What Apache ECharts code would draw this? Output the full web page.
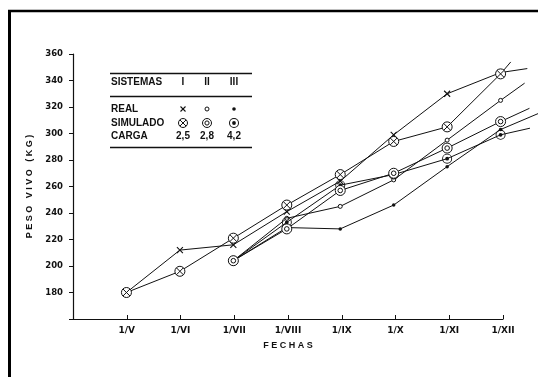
<!DOCTYPE html>
<html>
<head>
<meta charset="utf-8">
<script src="https://cdn.jsdelivr.net/npm/echarts@6/dist/echarts.min.js"></script>
<style>
html,body{margin:0;padding:0;background:#fff;}
#chart{width:538px;height:377px;}
</style>
</head>
<body>
<div id="chart"></div>
<script>
// Fechas (first day of each month, May to December)
const months = ['1/V', '1/VI', '1/VII', '1/VIII', '1/IX', '1/X', '1/XI', '1/XII'];

// Peso vivo (kg), one value per month; null where a system has no data yet
const realI    = [180, 212, 216, 241, 264, 299, 330, 346];
const simI     = [180, 196, 221, 246, 269, 294, 305, 345];
const realII   = [null, null, 204, 236, 245, 265, 295, 325];
const simII    = [null, null, 204, 228, 257, 270, 289, 309];
const realIII  = [null, null, 204, 229, 228, 246, 275, 303];
const simIII   = [null, null, 204, 233, 261, 269, 281, 299];

// Curve continuation after 1/XII: [months past 1/XII, kg]
const tailRealI   = [0.50, 349];
const tailSimI    = [0.19, 354];
const tailRealII  = [0.45, 338];
const tailSimII   = [0.54, 319];
const tailRealIII = [0.70, 315];
const tailSimIII  = [0.55, 304];

// Legend table contents
const sistemas = ['I', 'II', 'III'];
const cargas = ['2,5', '2,8', '4,2'];

const FONT = '"Liberation Sans", Arial, Helvetica, sans-serif';
const AXFONT = '"DejaVu Sans", Verdana, sans-serif';
const INK = '#111';

// Marker shapes
function circ(r, cw) {
  const s = cw ? 1 : 0;
  return 'M 0 ' + (-r) + ' A ' + r + ' ' + r + ' 0 1 ' + s + ' 0 ' + r +
         ' A ' + r + ' ' + r + ' 0 1 ' + s + ' 0 ' + (-r) + ' Z ';
}
const P_CROSS_CIRCLE = circ(5, true) + 'M -3.5 -3.5 L 3.5 3.5 M -3.5 3.5 L 3.5 -3.5';
const P_DOUBLE_CIRCLE = circ(5, true) + circ(2.3, true);
const P_DOT_CIRCLE = circ(5, true) + circ(4.1, false) + circ(1.9, true);
const P_X = 'M -3 -3 L 3 3 M -3 3 L 3 -3';

function toData(values, tail) {
  const out = [];
  values.forEach(function (v, i) { if (v != null) out.push([i, v]); });
  out.push({ value: [values.length - 1 + tail[0], tail[1]], symbol: 'none' });
  return out;
}

const lineStyle = { color: INK, width: 1 };

function lineSeries(name, values, tail, symbol, size, itemStyle) {
  return {
    name: name,
    type: 'line',
    xAxisIndex: 1,
    yAxisIndex: 1,
    data: toData(values, tail),
    symbol: symbol,
    symbolSize: size,
    showAllSymbol: true,
    clip: false,
    lineStyle: lineStyle,
    itemStyle: itemStyle,
    emphasis: { disabled: true },
    animation: false
  };
}

const openWhite = { color: '#fff', borderColor: INK, borderWidth: 1 };
const solid = { color: INK, borderWidth: 0 };

const series = [
  lineSeries('Real III', realIII, tailRealIII, 'circle', 3.5, solid),
  lineSeries('Real II', realII, tailRealII, 'circle', 4, openWhite),
  lineSeries('Real I', realI, tailRealI, 'path://' + P_X, 6, { color: 'none', borderColor: INK, borderWidth: 1.1 }),
  lineSeries('Simulado III', simIII, tailSimIII, 'path://' + P_DOT_CIRCLE, 10, solid),
  lineSeries('Simulado II', simII, tailSimII, 'path://' + P_DOUBLE_CIRCLE, 10, openWhite),
  lineSeries('Simulado I', simI, tailSimI, 'path://' + P_CROSS_CIRCLE, 10, openWhite)
];

// Legend table drawn inside the plot area
const tx = 111, colX = [183, 207, 234];
const rowHead = 82.5, rowReal = 109, rowSim = 123, rowCarga = 136;
function textStyle(t, align) {
  return { text: t, font: 'bold 10px ' + FONT, fill: INK, align: align || 'left', verticalAlign: 'middle' };
}
function seg(x1, y1, x2, y2, w) {
  return { type: 'line', shape: { x1: x1, y1: y1, x2: x2, y2: y2 }, style: { stroke: INK, lineWidth: w || 1 } };
}
const graphics = [
  // page frame
  { type: 'line', shape: { x1: 9.5, y1: 10, x2: 9.5, y2: 377 }, style: { stroke: '#000', lineWidth: 3 } },
  { type: 'line', shape: { x1: 8, y1: 11, x2: 538, y2: 11 }, style: { stroke: '#000', lineWidth: 2.5 } },
  // table rules
  seg(110, 73.5, 252, 73.5, 1.3),
  seg(110, 96.5, 252, 96.5, 1.3),
  seg(110, 147.5, 252, 147.5, 1.3),
  { type: 'text', x: tx, y: rowHead, style: textStyle('SISTEMAS') },
  { type: 'text', x: tx, y: rowReal, style: textStyle('REAL') },
  { type: 'text', x: tx, y: rowSim, style: textStyle('SIMULADO') },
  { type: 'text', x: tx, y: rowCarga, style: textStyle('CARGA') },
  // REAL row markers
  seg(colX[0] - 2.5, rowReal - 2.5, colX[0] + 2.5, rowReal + 2.5, 1.1),
  seg(colX[0] - 2.5, rowReal + 2.5, colX[0] + 2.5, rowReal - 2.5, 1.1),
  { type: 'circle', shape: { cx: colX[1], cy: rowReal, r: 2 }, style: { fill: '#fff', stroke: INK, lineWidth: 1 } },
  { type: 'circle', shape: { cx: colX[2], cy: rowReal, r: 1.8 }, style: { fill: INK } },
  // SIMULADO row markers
  { type: 'circle', shape: { cx: colX[0], cy: rowSim, r: 4.5 }, style: { fill: '#fff', stroke: INK, lineWidth: 1 } },
  seg(colX[0] - 3.1, rowSim - 3.1, colX[0] + 3.1, rowSim + 3.1, 1),
  seg(colX[0] - 3.1, rowSim + 3.1, colX[0] + 3.1, rowSim - 3.1, 1),
  { type: 'circle', shape: { cx: colX[1], cy: rowSim, r: 4.5 }, style: { fill: '#fff', stroke: INK, lineWidth: 1 } },
  { type: 'circle', shape: { cx: colX[1], cy: rowSim, r: 2.1 }, style: { fill: '#fff', stroke: INK, lineWidth: 1 } },
  { type: 'ring', shape: { cx: colX[2], cy: rowSim, r: 5, r0: 4 }, style: { fill: INK } },
  { type: 'circle', shape: { cx: colX[2], cy: rowSim, r: 1.9 }, style: { fill: INK } }
];
sistemas.forEach(function (s, i) {
  graphics.push({ type: 'text', x: colX[i], y: rowHead, style: textStyle(s, 'center') });
});
cargas.forEach(function (c, i) {
  graphics.push({ type: 'text', x: colX[i], y: rowCarga, style: textStyle(c, 'center') });
});

// Plot box: visible axes span 1/IV .. 1/XII; the curves run on an
// overlaid, hidden axis pair that extends a little past 1/XII.
const PLOT_LEFT = 73, PLOT_TOP = 54, PLOT_W = 430, PLOT_H = 265;
const X_MIN = -1, X_MAX = months.length - 1;
const tails = [tailRealI, tailSimI, tailRealII, tailSimII, tailRealIII, tailSimIII];
const X_MAX_DATA = X_MAX + Math.max.apply(null, tails.map(function (t) { return t[0]; }));
const DATA_W = PLOT_W * (X_MAX_DATA - X_MIN) / (X_MAX - X_MIN);

const chart = echarts.init(document.getElementById('chart'), null, { renderer: 'canvas' });
chart.setOption({
  backgroundColor: '#fff',
  animation: false,
  grid: [
    { left: PLOT_LEFT, top: PLOT_TOP, width: PLOT_W, height: PLOT_H, containLabel: false },
    { left: PLOT_LEFT, top: PLOT_TOP, width: DATA_W, height: PLOT_H, containLabel: false }
  ],
  xAxis: [{
    type: 'value',
    gridIndex: 0,
    min: X_MIN,
    max: X_MAX,
    interval: 1,
    name: 'F E C H A S',
    nameLocation: 'middle',
    nameGap: 22,
    nameTextStyle: { fontFamily: FONT, fontWeight: 'bold', fontSize: 9, color: INK },
    axisLine: { onZero: false, lineStyle: { color: INK, width: 1.2 } },
    axisTick: { inside: true, length: 4, lineStyle: { color: INK } },
    splitLine: { show: false },
    axisLabel: {
      margin: 7,
      fontFamily: AXFONT, fontWeight: 'bold', fontSize: 9, color: INK,
      formatter: function (v) { return v >= 0 ? months[v] : ''; }
    }
  }, {
    type: 'value',
    gridIndex: 1,
    min: X_MIN,
    max: X_MAX_DATA,
    show: false
  }],
  yAxis: [{
    type: 'value',
    gridIndex: 0,
    min: 160,
    max: 360,
    interval: 20,
    name: 'P E S O   V I V O   ( K G )',
    nameLocation: 'middle',
    nameGap: 38,
    nameRotate: 90,
    nameTextStyle: { fontFamily: FONT, fontWeight: 'bold', fontSize: 9, color: INK },
    axisLine: { show: true, onZero: false, lineStyle: { color: INK, width: 1.2 } },
    axisTick: { show: true, inside: false, length: 4, lineStyle: { color: INK } },
    splitLine: { show: false },
    axisLabel: {
      margin: 10,
      fontFamily: AXFONT, fontWeight: 'bold', fontSize: 8.5, color: INK,
      formatter: function (v) { return v === 160 ? '' : String(v); }
    }
  }, {
    type: 'value',
    gridIndex: 1,
    min: 160,
    max: 360,
    show: false
  }],
  graphic: graphics,
  series: series
});
</script>
</body>
</html>
